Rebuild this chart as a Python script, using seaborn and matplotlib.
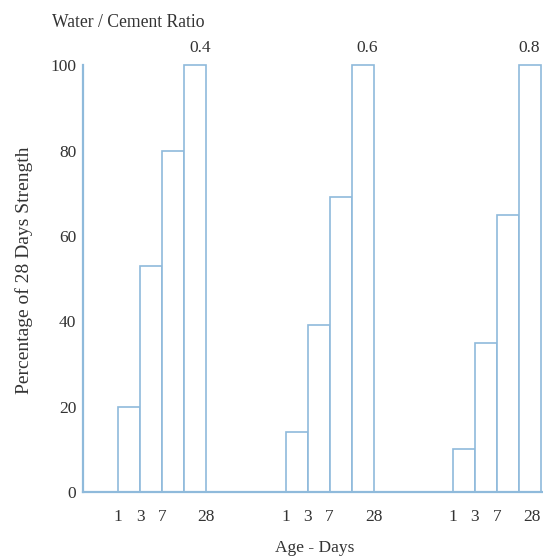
import numpy as np
import pandas as pd
import matplotlib.pyplot as plt
import seaborn as sns

ratios = ["0.4", "0.6", "0.8"]
ages = ["1", "3", "7", "28"]
strength_04 = [20, 53, 80, 100]
strength_06 = [14, 39, 69, 100]
strength_08 = [10, 35, 65, 100]

sns.set_style("white")
plt.rcParams["font.family"] = ["Liberation Serif", "DejaVu Serif"]

line_col = "#8fbadb"
text_col = "#333333"

# four touching bars per ratio, groups spaced out along x
start, step = 1.6, 7.6
rows = []
for g, (r, vals) in enumerate(zip(ratios, [strength_04, strength_06, strength_08])):
    for i, (a, v) in enumerate(zip(ages, vals)):
        rows.append({"ratio": r, "age": a, "pos": start + g * step + i + 0.5, "strength": v})
df = pd.DataFrame(rows)

fig = plt.figure(figsize=(5.43, 5.59), dpi=100)
ax = fig.add_axes([0.153, 0.12, 0.847, 0.855])
sns.barplot(data=df, x="pos", y="strength", native_scale=True, width=1,
            color="white", saturation=1, edgecolor=line_col, linewidth=1.2,
            errorbar=None, ax=ax)

ax.set_xlim(0, 20.9)
ax.set_ylim(0, 112)
for s in ["top", "right"]:
    ax.spines[s].set_visible(False)
for s in ["left", "bottom"]:
    ax.spines[s].set_color(line_col)
    ax.spines[s].set_linewidth(1.6)
ax.spines["left"].set_bounds(0, 100)

ax.set_yticks(range(0, 101, 20))
ax.tick_params(axis="y", direction="in", length=6, width=1.5, color=line_col,
               labelsize=12.5, labelcolor=text_col, pad=5)

# age labels sit on the bar edges
xt, xl = [], []
for g in range(len(ratios)):
    left = start + g * step
    xt += [left, left + 1, left + 2, left + 4]
    xl += ages
ax.set_xticks(xt)
ax.set_xticklabels(xl)
ax.tick_params(axis="x", length=0, labelsize=12.5, labelcolor=text_col, pad=12)
ax.get_xticklabels()[-1].set_horizontalalignment("right")

for g, r in enumerate(ratios):
    ax.text(min(start + g * step + 3.7, 20.25), 104, r, ha="center", va="center",
            fontsize=12.5, color=text_col)

ax.set_xlabel("")
ax.set_ylabel("")
fig.text(0.096, 0.96, "Water / Cement Ratio", ha="left", va="center",
         fontsize=12.7, color=text_col)
fig.text(0.045, 0.517, "Percentage of 28 Days Strength", rotation=90,
         ha="center", va="center", fontsize=14, color=text_col)
fig.text(0.58, 0.02, "Age - Days", ha="center", va="center",
         fontsize=12.5, color=text_col)

plt.savefig("out.png", dpi=100)
